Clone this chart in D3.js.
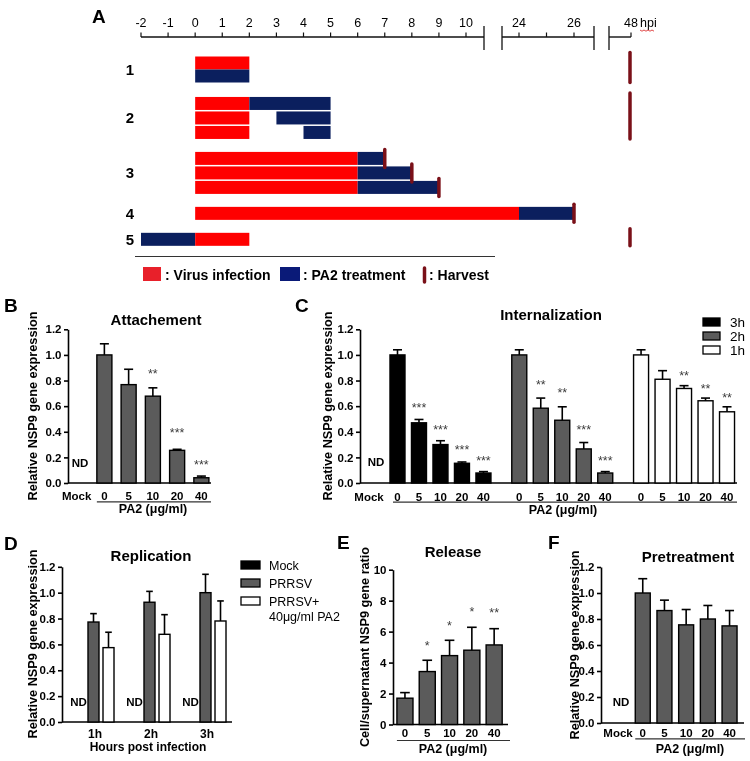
<!DOCTYPE html>
<html><head><meta charset="utf-8">
<script src="https://cdn.jsdelivr.net/npm/d3@7"></script>
<style>
body{margin:0;background:#fff}
svg{display:block}
text{font-family:"Liberation Sans",Arial,sans-serif}
</style>
</head><body>
<svg id="c" width="750" height="761"><defs><filter id="gs"><feColorMatrix type="saturate" values="0"/></filter></defs></svg>
<script>
// ---------------- DATA ----------------
// Panel A (timeline)
const timeTicks = [-2,-1,0,1,2,3,4,5,6,7,8,9,10,24,25,26,48];
const timeTickLabels = ["-2","-1","0","1","2","3","4","5","6","7","8","9","10","24","","26","48"];
const protocolRows = ["1","2","3","4","5"];
const protocolLanes = [["1",0],["1",1],["2",0],["2",1],["2",2],["3",0],["3",1],["3",2],["4",0],["5",0]];
const protocolBars = [
  ["1",0,"virus",0,2],["1",1,"pa2",0,2],
  ["2",0,"virus",0,2],["2",0,"pa2",2,5],["2",1,"virus",0,2],["2",1,"pa2",3,5],["2",2,"virus",0,2],["2",2,"pa2",4,5],
  ["3",0,"virus",0,6],["3",0,"pa2",6,7],["3",1,"virus",0,6],["3",1,"pa2",6,8],["3",2,"virus",0,6],["3",2,"pa2",6,9],
  ["4",0,"virus",0,24],["4",0,"pa2",24,26],
  ["5",0,"pa2",-2,0],["5",0,"virus",0,2]
];
const harvestLane = [["3",0,7],["3",1,8],["3",2,9],["4",0,26]];
const harvestGroup = [["1",48],["2",48],["5",48]];
const legendA = [": Virus infection",": PA2 treatment",": Harvest"];

// Panel B (Attachement)
const bCats = ["Mock","0","5","10","20","40"];
const bMean = [null,1.00,0.768,0.678,0.255,0.041];
const bErr  = [null,0.087,0.12,0.065,0.008,0.013];
const bStars = ["","","","**","***","***"];
const bStarY = [null,null,null,0.875,0.418,0.166];

// Panel C (Internalization)
const cDoses = ["0","5","10","20","40"];
const cGroups = ["3h","2h","1h"];
const cMean = {"3h":[1.00,0.470,0.300,0.154,0.078],"2h":[1.00,0.584,0.490,0.266,0.078],"1h":[1.00,0.810,0.738,0.642,0.556]};
const cErr  = {"3h":[0.04,0.026,0.030,0.010,0.011],"2h":[0.04,0.079,0.105,0.050,0.011],"1h":[0.04,0.067,0.022,0.021,0.039]};
const cStars = {"3h":["","***","***","***","***"],"2h":["","**","**","***","***"],"1h":["","","**","**","**"]};
const cStarY = {"3h":[null,0.608,0.44,0.28,0.2],"2h":[null,0.79,0.725,0.44,0.2],"1h":[null,null,0.86,0.76,0.686]};

// Panel D (Replication)
const dTimes = ["1h","2h","3h"];
const dSeries = ["Mock","PRRSV","PRRSV+PA2"];
const dLegend = [["Mock"],["PRRSV"],["PRRSV+","40\u03bcg/ml PA2"]];
const dPrrsv = [0.773,0.926,1.000];
const dPrrsvErr = [0.065,0.084,0.142];
const dPa2 = [0.575,0.678,0.781];
const dPa2Err = [0.119,0.152,0.155];

// Panel E (Release)
const eCats = ["0","5","10","20","40"];
const eMean = [1.70,3.42,4.45,4.80,5.14];
const eErr  = [0.36,0.73,0.99,1.48,1.05];
const eStars = ["","*","*","*","**"];
const eStarY = [null,5.3,6.6,7.46,7.4];

// Panel F (Pretreatment)
const fCats = ["Mock","0","5","10","20","40"];
const fMean = [null,1.00,0.865,0.755,0.800,0.747];
const fErr  = [null,0.11,0.08,0.118,0.104,0.118];

const yTicks12 = [0,0.2,0.4,0.6,0.8,1.0,1.2];
const yTicksE = [0,2,4,6,8,10];

// ---------------- DRAW ----------------
const FONT = '"Liberation Sans", Arial, sans-serif';
const svg = d3.select("#c");
const GRAY = "#5b5b5b";

function txt(x,y,s,size,weight,anchor,fill){
  return svg.append("text").attr("x",x).attr("y",y).text(s)
    .attr("font-size",size).attr("font-weight",weight||"normal")
    .attr("text-anchor",anchor||"start").attr("fill",fill||"#000");
}
function yLabel(x,yc,s){
  svg.append("text").attr("transform",`translate(${x},${yc}) rotate(-90)`)
    .attr("text-anchor","middle").attr("dy","0.35em").attr("font-size",12.7)
    .attr("font-weight","bold").text(s);
}
function yAxis(y,x0,ticks,fmt){
  const a = svg.append("g").attr("transform",`translate(${x0},0)`)
    .call(d3.axisLeft(y).tickValues(ticks).tickFormat(fmt).tickSize(4).tickSizeOuter(0).tickPadding(2.5));
  a.attr("font-family",FONT).attr("font-size",11.5).attr("font-weight","bold");
  a.select(".domain").attr("stroke","#000").attr("stroke-width",1.6);
  a.selectAll(".tick line").attr("stroke","#000").attr("stroke-width",1.6);
  a.selectAll(".tick text").attr("fill","#000");
}
function hline(x1,x2,y,w,c){
  svg.append("line").attr("x1",x1).attr("x2",x2).attr("y1",y).attr("y2",y)
    .attr("stroke",c||"#000").attr("stroke-width",w||1.6);
}
function bars(items,y,bw,fill){
  const g = svg.append("g");
  g.selectAll("rect").data(items.filter(d=>d.v!=null)).join("rect")
    .attr("x",d=>d.cx-bw/2).attr("y",d=>y(d.v)).attr("width",bw)
    .attr("height",d=>y(0)-y(d.v)).attr("fill",d=>d.fill||fill)
    .attr("stroke","#000").attr("stroke-width",1.4);
  const eb = items.filter(d=>d.v!=null && d.e!=null);
  g.selectAll("line.ev").data(eb).join("line").attr("class","ev")
    .attr("x1",d=>d.cx).attr("x2",d=>d.cx).attr("y1",d=>y(d.v)).attr("y2",d=>y(d.v+d.e))
    .attr("stroke","#000").attr("stroke-width",1.6);
  g.selectAll("line.ec").data(eb).join("line").attr("class","ec")
    .attr("x1",d=>d.cx-bw*0.3).attr("x2",d=>d.cx+bw*0.3).attr("y1",d=>y(d.v+d.e)).attr("y2",d=>y(d.v+d.e))
    .attr("stroke","#000").attr("stroke-width",1.6);
}
function stars(items,y){
  svg.append("g").selectAll("text").data(items.filter(d=>d.s)).join("text")
    .attr("x",d=>d.cx).attr("y",d=>y(d.sy)+7.2).attr("text-anchor","middle")
    .attr("font-size",12.5).attr("fill","#3a3a3a").text(d=>d.s);
}

// ===== Panel A =====
const xT = d3.scaleLinear().domain([-2,10,24,26,48]).range([141,466,519,574,631]);
const axY = 37;
txt(92,23,"A",19,"bold");
[[xT(-2),xT(10)+18],[xT(24)-17,xT(26)+20],[xT(48)-22,xT(48)]].forEach(s=>hline(s[0],s[1],axY,1.4,"#111"));
[xT(10)+18,xT(24)-17,xT(26)+20,xT(48)-22].forEach(x=>{
  svg.append("line").attr("x1",x).attr("x2",x).attr("y1",26).attr("y2",50).attr("stroke","#111").attr("stroke-width",1.3);
});
svg.append("g").selectAll("line").data(timeTicks).join("line")
  .attr("x1",d=>xT(d)).attr("x2",d=>xT(d)).attr("y1",axY-4.5).attr("y2",axY).attr("stroke","#111").attr("stroke-width",1.2);
svg.append("g").selectAll("text").data(timeTicks).join("text")
  .attr("x",d=>xT(d)).attr("y",27).attr("text-anchor","middle").attr("font-size",12.5)
  .text((d,i)=>timeTickLabels[i]);
txt(640,27,"hpi",12.5);
svg.append("path").attr("d",d3.range(0,16,2).map((k,i)=>`${i?"L":"M"}${640+k},${30+(i%2?1.2:0)}`).join(""))
  .attr("fill","none").attr("stroke","#d33").attr("stroke-width",0.9);

const groupIdx = r=>protocolRows.indexOf(r);
const laneIndex = (r,l)=>protocolLanes.findIndex(d=>d[0]===r&&d[1]===l);
const yLane = d3.scaleLinear().domain([0,1]).range([56.5,71]);
const laneTop = (r,l)=>yLane(laneIndex(r,l)+groupIdx(r)*0.79) - (r==="1"&&l===1?1.5:0);
const LANE_H = 13;
const colA = {virus:"#ff0000",pa2:"#0b1f5e"};
svg.append("g").selectAll("rect").data(protocolBars).join("rect")
  .attr("x",d=>xT(d[3])).attr("width",d=>xT(d[4])-xT(d[3]))
  .attr("y",d=>laneTop(d[0],d[1])).attr("height",LANE_H).attr("fill",d=>colA[d[2]]);
svg.append("g").selectAll("text").data(protocolRows).join("text")
  .attr("x",130).attr("text-anchor","middle").attr("font-size",15).attr("font-weight","bold")
  .attr("y",r=>{
    const ls = protocolLanes.filter(d=>d[0]===r);
    const t = laneTop(r,ls[0][1]), b = laneTop(r,ls[ls.length-1][1])+LANE_H;
    return (t+b)/2+5.5;
  }).text(r=>r);
const HARV = "#7a1018";
svg.append("g").selectAll("line").data(harvestLane).join("line")
  .attr("x1",d=>xT(d[2])).attr("x2",d=>xT(d[2]))
  .attr("y1",d=>laneTop(d[0],d[1])-2.5).attr("y2",d=>laneTop(d[0],d[1])+LANE_H+2.5)
  .attr("stroke",HARV).attr("stroke-width",3.5).attr("stroke-linecap","round");
svg.append("g").selectAll("line").data(harvestGroup).join("line")
  .attr("x1",d=>xT(d[1])-1).attr("x2",d=>xT(d[1])-1)
  .attr("y1",d=>{const ls=protocolLanes.filter(l=>l[0]===d[0]);return laneTop(d[0],ls[0][1])-4;})
  .attr("y2",d=>{const ls=protocolLanes.filter(l=>l[0]===d[0]);return laneTop(d[0],ls[ls.length-1][1])+LANE_H;})
  .attr("stroke",HARV).attr("stroke-width",3.5).attr("stroke-linecap","round");
hline(135,495,256.5,1,"#333");
svg.append("rect").attr("x",143).attr("y",267).attr("width",18).attr("height",14).attr("fill","#e8202a");
txt(165,280,legendA[0],14,"bold");
svg.append("rect").attr("x",280).attr("y",267).attr("width",20).attr("height",14).attr("fill","#0a1a78");
txt(303,280,legendA[1],14,"bold");
svg.append("line").attr("x1",424.5).attr("x2",424.5).attr("y1",268).attr("y2",282)
  .attr("stroke",HARV).attr("stroke-width",3.5).attr("stroke-linecap","round");
txt(429,280,legendA[2],14,"bold");

// ===== Panel B =====
{
  const x = d3.scaleBand().domain(bCats).range([68,213.5]).paddingInner(0.38).paddingOuter(0.19);
  const y = d3.scaleLinear().domain([0,1.2]).range([483,329.3]);
  const cx = c=>x(c)+x.bandwidth()/2;
  txt(4,312,"B",19,"bold");
  txt(156,325,"Attachement",15,"bold","middle");
  yLabel(33,406,"Relative NSP9 gene expression");
  yAxis(y,68,yTicks12,d3.format(".1f"));
  hline(68,211,y(0));
  const items = bCats.map((c,i)=>({cx:cx(c),v:bMean[i],e:bErr[i],s:bStars[i],sy:bStarY[i]}));
  bars(items,y,x.bandwidth(),GRAY);
  stars(items,y);
  txt(cx("Mock"),467,"ND",11.5,"bold","middle");
  svg.append("g").selectAll("text").data(bCats).join("text")
    .attr("x",d=>cx(d)-(d==="Mock"?3.5:0)).attr("y",500).attr("text-anchor","middle")
    .attr("font-size",11.5).attr("font-weight","bold").text(d=>d);
  hline(x("0"),211,501.8,1.2,"#333");
  txt(153,512.5,"PA2 (\u03bcg/ml)",12.5,"bold","middle");
}

// ===== Panel C =====
{
  const slot = (g,i)=> g==="Mock"?0 : 1 + cGroups.indexOf(g)*(cDoses.length+0.667) + i;
  const x = d3.scaleLinear().domain([0,16.333]).range([376,727]);
  const y = d3.scaleLinear().domain([0,1.2]).range([483,329.3]);
  const bw = 15;
  txt(295,312,"C",19,"bold");
  txt(551,320,"Internalization",15,"bold","middle");
  yLabel(328,406,"Relative NSP9 gene expression");
  yAxis(y,360,yTicks12,d3.format(".1f"));
  hline(360,737,y(0));
  const fills = {"3h":"#000","2h":GRAY,"1h":"#fff"};
  const items = [];
  cGroups.forEach(g=>cDoses.forEach((d,i)=>items.push({cx:x(slot(g,i)),v:cMean[g][i],e:cErr[g][i],fill:fills[g],s:cStars[g][i],sy:cStarY[g][i],lab:d})));
  bars(items,y,bw,GRAY);
  stars(items,y);
  txt(x(slot("Mock")),466,"ND",11.5,"bold","middle");
  svg.append("g").selectAll("text").data([{cx:x(slot("Mock"))-7,lab:"Mock"}].concat(items)).join("text")
    .attr("x",d=>d.cx).attr("y",500.5).attr("text-anchor","middle")
    .attr("font-size",11.5).attr("font-weight","bold").text(d=>d.lab);
  hline(393,737,502.2,1.2,"#333");
  txt(563,513.5,"PA2 (\u03bcg/ml)",12.5,"bold","middle");
  const lg = svg.append("g").selectAll("g").data(cGroups).join("g")
    .attr("transform",(d,i)=>`translate(703,${318+i*14})`);
  lg.append("rect").attr("width",17).attr("height",8).attr("fill",d=>fills[d]).attr("stroke","#000").attr("stroke-width",1.3);
  lg.append("text").attr("x",27).attr("y",8.8).attr("font-size",13.5).text(d=>d);
}

// ===== Panel D =====
{
  const xo = d3.scaleBand().domain(dTimes).range([65.5,233.5]);
  const xi = d3.scaleBand().domain(dSeries).range([-22.5,22.5]).paddingInner(0.267).paddingOuter(0.133);
  const y = d3.scaleLinear().domain([0,1.2]).range([722,566.8]);
  const gc = t=>xo(t)+xo.bandwidth()/2;
  const cx = (t,s)=>gc(t)+xi(s)+xi.bandwidth()/2;
  txt(4,550,"D",19,"bold");
  txt(151,561,"Replication",15,"bold","middle");
  yLabel(33,644,"Relative NSP9 gene expression");
  yAxis(y,62,yTicks12,d3.format(".1f"));
  hline(62,232,y(0));
  const items = [];
  dTimes.forEach((t,i)=>{
    items.push({cx:cx(t,"PRRSV"),v:dPrrsv[i],e:dPrrsvErr[i],fill:GRAY});
    items.push({cx:cx(t,"PRRSV+PA2"),v:dPa2[i],e:dPa2Err[i],fill:"#fff"});
  });
  bars(items,y,xi.bandwidth(),GRAY);
  svg.append("g").selectAll("text").data(dTimes).join("text")
    .attr("x",t=>cx(t,"Mock")).attr("y",706).attr("text-anchor","middle")
    .attr("font-size",11.5).attr("font-weight","bold").text("ND");
  svg.append("g").selectAll("text").data(dTimes).join("text")
    .attr("x",t=>gc(t)+1.5).attr("y",737.5).attr("text-anchor","middle")
    .attr("font-size",12).attr("font-weight","bold").text(t=>t);
  txt(148,751,"Hours post infection",12,"bold","middle");
  const lf = {"Mock":"#000","PRRSV":GRAY,"PRRSV+PA2":"#fff"};
  const lg = svg.append("g").selectAll("g").data(dSeries).join("g")
    .attr("transform",(d,i)=>`translate(241,${561+i*18})`);
  lg.append("rect").attr("width",19).attr("height",8).attr("fill",d=>lf[d]).attr("stroke","#000").attr("stroke-width",1.3);
  lg.each(function(d,i){
    dLegend[i].forEach((s,k)=>d3.select(this).append("text").attr("x",28).attr("y",8.7+k*15.5)
      .attr("font-size",12.5).text(s));
  });
}

// ===== Panel E =====
{
  const x = d3.scaleBand().domain(eCats).range([393.8,505.3]).paddingInner(0.28).paddingOuter(0.14);
  const y = d3.scaleLinear().domain([0,10]).range([724.5,569.7]);
  const cx = c=>x(c)+x.bandwidth()/2;
  txt(337,549,"E",19,"bold");
  txt(453,557,"Release",15,"bold","middle");
  yLabel(365,647,"Cell/supernatant NSP9 gene ratio");
  yAxis(y,393,yTicksE,d3.format("d"));
  hline(393,508,y(0));
  const items = eCats.map((c,i)=>({cx:cx(c),v:eMean[i],e:eErr[i],s:eStars[i],sy:eStarY[i]}));
  bars(items,y,x.bandwidth(),GRAY);
  stars(items,y);
  svg.append("g").selectAll("text").data(eCats).join("text")
    .attr("x",d=>cx(d)).attr("y",737).attr("text-anchor","middle")
    .attr("font-size",11.5).attr("font-weight","bold").text(d=>d);
  hline(x("0"),510,740.5,1.2,"#333");
  txt(453,752.5,"PA2 (\u03bcg/ml)",12.5,"bold","middle");
}

// ===== Panel F =====
{
  const x = d3.scaleBand().domain(fCats).range([610.2,740.4]).paddingInner(0.31).paddingOuter(0.155);
  const y = d3.scaleLinear().domain([0,1.2]).range([723,567]);
  const cx = c=>x(c)+x.bandwidth()/2;
  txt(548,549,"F",19,"bold");
  txt(688,562,"Pretreatment",15,"bold","middle");
  yLabel(575,645,"Relative NSP9 gene expression");
  yAxis(y,601,yTicks12,d3.format(".1f"));
  hline(601,744,y(0));
  const items = fCats.map((c,i)=>({cx:cx(c),v:fMean[i],e:fErr[i]}));
  bars(items,y,x.bandwidth(),GRAY);
  txt(cx("Mock"),706,"ND",11.5,"bold","middle");
  svg.append("g").selectAll("text").data(fCats).join("text")
    .attr("x",d=>cx(d)-(d==="Mock"?3:0)).attr("y",737).attr("text-anchor","middle")
    .attr("font-size",11.5).attr("font-weight","bold").text(d=>d);
  hline(x("0"),745,738.8,1.2,"#333");
  txt(690,752.5,"PA2 (\u03bcg/ml)",12.5,"bold","middle");
}

// grayscale antialiasing for all text
svg.selectAll("text").attr("filter","url(#gs)");
</script>
</body></html>
